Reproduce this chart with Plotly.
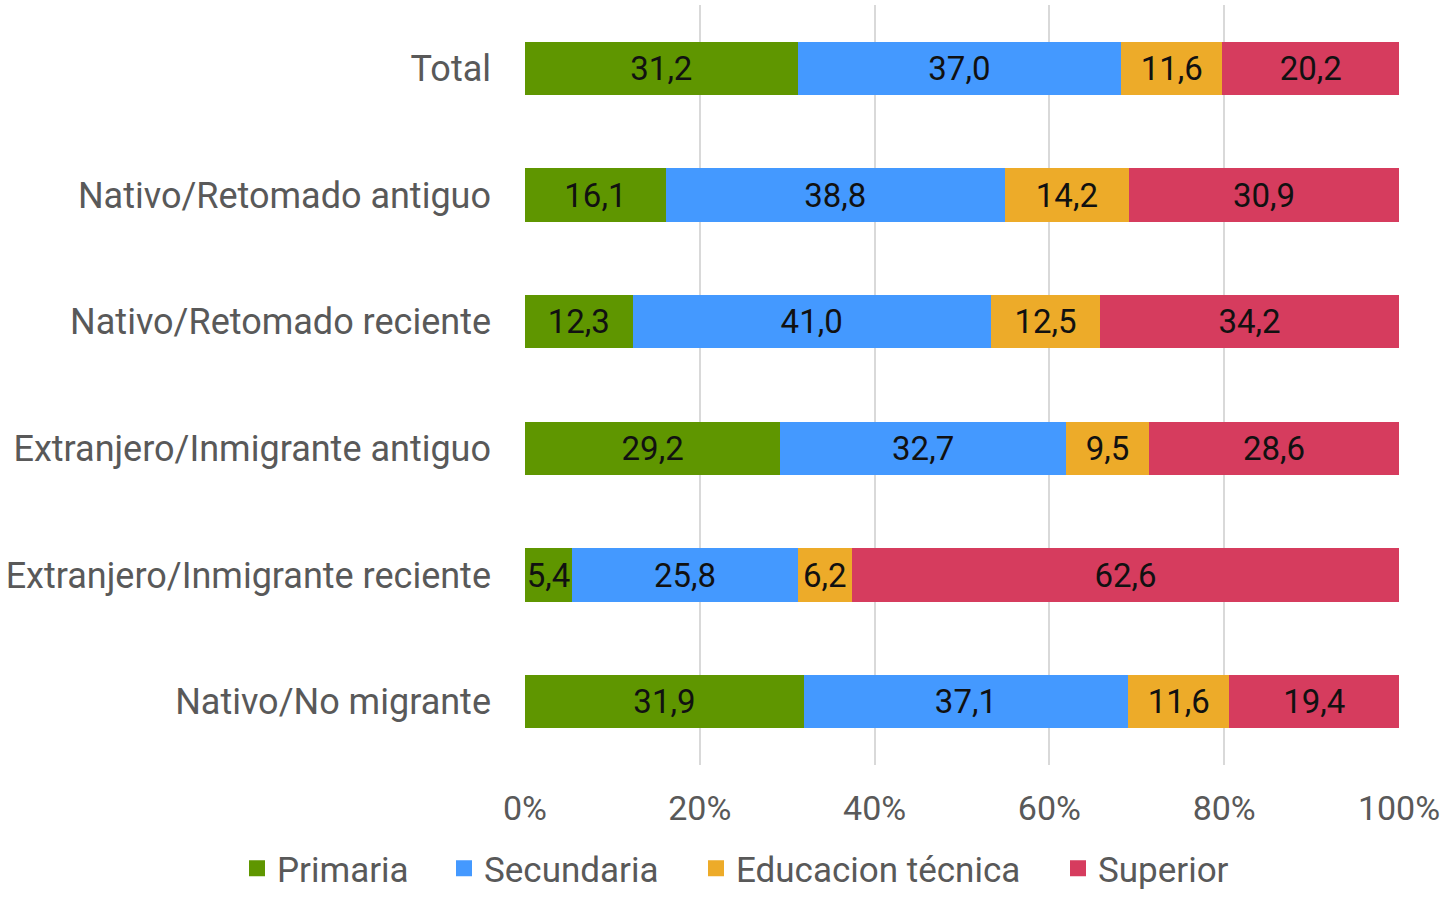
import plotly.graph_objects as go

categories = [
    "Total",
    "Nativo/Retomado antiguo",
    "Nativo/Retomado reciente",
    "Extranjero/Inmigrante antiguo",
    "Extranjero/Inmigrante reciente",
    "Nativo/No migrante",
]
primaria = [31.2, 16.1, 12.3, 29.2, 5.4, 31.9]
secundaria = [37.0, 38.8, 41.0, 32.7, 25.8, 37.1]
tecnica = [11.6, 14.2, 12.5, 9.5, 6.2, 11.6]
superior = [20.2, 30.9, 34.2, 28.6, 62.6, 19.4]

series = [
    ("Primaria", primaria, "#5f9600"),
    ("Secundaria", secundaria, "#4499ff"),
    ("Educacion técnica", tecnica, "#edab29"),
    ("Superior", superior, "#d63c5e"),
]
legend_left_px = [237, 444, 696, 1058]

fig = go.Figure()
for name, vals, color in series:
    fig.add_trace(go.Bar(
        y=categories, x=vals, name=name, orientation="h",
        marker=dict(color=color, line=dict(width=0)),
        texttemplate="%{x:.1f}", textposition="inside",
        insidetextanchor="middle", textangle=0,
        textfont=dict(family="Roboto", size=33, color="#111111"),
        constraintext="none", showlegend=False,
    ))

legend_ids = ["legend", "legend2", "legend3", "legend4"]
for (name, vals, color), lid in zip(series, legend_ids):
    fig.add_trace(go.Scatter(
        x=[None], y=[None], mode="markers", name=name,
        marker=dict(symbol="square", size=20, color=color),
        showlegend=True, legend=lid,
    ))

legend_common = dict(
    orientation="h", xref="container", yref="container",
    y=0, yanchor="bottom", xanchor="left",
    font=dict(family="Roboto", size=35, color="#595959"),
    itemwidth=30, bgcolor="rgba(0,0,0,0)", borderwidth=0,
)
layout_legends = {}
for lid, px in zip(legend_ids, legend_left_px):
    layout_legends[lid] = dict(legend_common, x=px / 1448)

fig.update_layout(
    barmode="stack",
    bargap=0.58,
    separators=",.",
    width=1448, height=898,
    margin=dict(l=525, r=49, t=5, b=133, autoexpand=False),
    paper_bgcolor="white", plot_bgcolor="white",
    font=dict(family="Roboto", color="#595959"),
    showlegend=True,
    xaxis=dict(
        range=[0, 100], tickvals=[0, 20, 40, 60, 80, 100],
        ticktext=["0%", "20%", "40%", "60%", "80%", "100%"],
        showgrid=True, gridcolor="#d9d9d9", gridwidth=2,
        zeroline=False, showline=False,
        tickfont=dict(family="Roboto", size=34, color="#595959"),
        ticks="", ticklabelstandoff=20,
    ),
    yaxis=dict(
        autorange="reversed",
        tickfont=dict(family="Roboto", size=36, color="#595959"),
        ticks="", ticklabelstandoff=33, showgrid=False,
    ),
    **layout_legends,
)

fig.write_html("out.html", config={"displayModeBar": False},
               post_script="document.body.style.margin='0px';")
